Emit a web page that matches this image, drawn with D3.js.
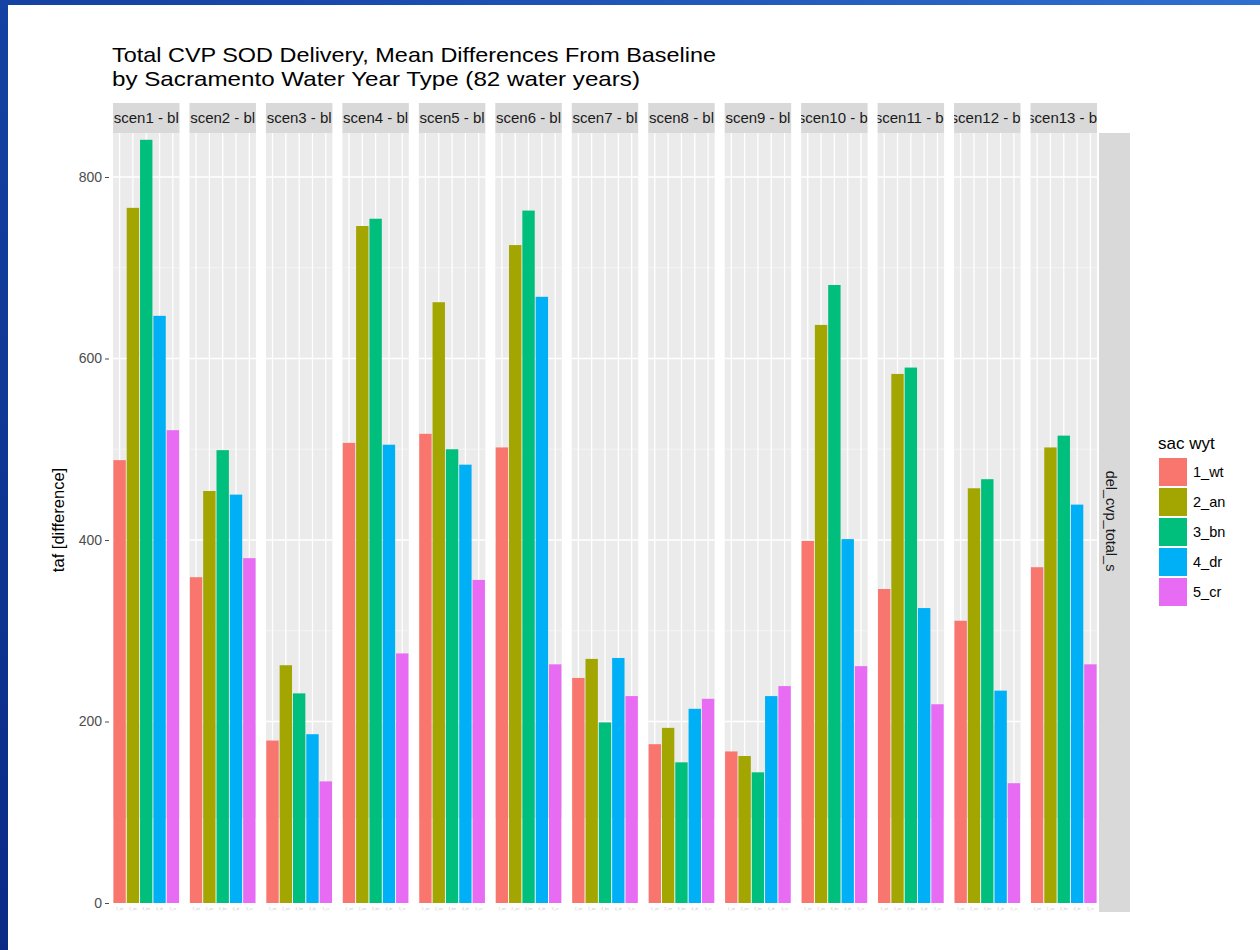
<!DOCTYPE html>
<html><head><meta charset="utf-8">
<script src="https://cdn.jsdelivr.net/npm/d3@7/dist/d3.min.js"></script>
<style>body{margin:0;padding:0;overflow:hidden;}svg{display:block;font-family:"Liberation Sans",Arial,sans-serif;}</style>
</head><body>
<script>
const scenarios = ["scen1","scen2","scen3","scen4","scen5","scen6","scen7","scen8","scen9","scen10","scen11","scen12","scen13"];
const wyt = ["1_wt","2_an","3_bn","4_dr","5_cr"];
const v_wt = [488,359,179,507,517,502,248,175,167,399,346,311,370];
const v_an = [766,454,262,746,662,725,269,193,162,637,583,457,502];
const v_bn = [841,499,231,754,500,763,199,155,144,681,590,467,515];
const v_dr = [647,450,186,505,483,668,270,214,228,401,325,234,439];
const v_cr = [521,380,134,275,356,263,228,225,239,261,219,132,263];
const yTicks = [0,200,400,600,800];
const yMinor = [100,300,500,700];
const colors = ["#F8766D","#A3A500","#00BF7D","#00B0F6","#E76BF3"];

const series = [v_wt,v_an,v_bn,v_dr,v_cr];
const W=1260,H=950;
const svg = d3.select("body").append("svg").attr("width",W).attr("height",H);
const defs = svg.append("defs");
const g1 = defs.append("linearGradient").attr("id","bg").attr("x1","0").attr("y1","1").attr("x2","1").attr("y2","0");
g1.append("stop").attr("offset","0").attr("stop-color","#0a2a86");
g1.append("stop").attr("offset","0.6").attr("stop-color","#1747a8");
g1.append("stop").attr("offset","1").attr("stop-color","#2f6fd0");
svg.append("rect").attr("width",W).attr("height",H).attr("fill","url(#bg)");
svg.append("rect").attr("x",8).attr("y",5).attr("width",W-8).attr("height",H-5).attr("fill","#ffffff");

const y = d3.scaleLinear().domain([0,800]).range([903,177]);
const panelTop = y(848.5), grayBot = 818;
const facet = d3.scaleBand().domain(scenarios).range([113, 113+76.5*12+66]).paddingInner(10/76.5).paddingOuter(0);
const pw = facet.bandwidth();
const color = d3.scaleOrdinal().domain(wyt).range(colors);

// title
const title = svg.append("g");
title.append("text").attr("x",112).attr("y",62).attr("font-size",21).attr("fill","#000")
  .attr("textLength",604).attr("lengthAdjust","spacingAndGlyphs")
  .text("Total CVP SOD Delivery, Mean Differences From Baseline");
title.append("text").attr("x",112).attr("y",86).attr("font-size",21).attr("fill","#000")
  .attr("textLength",528).attr("lengthAdjust","spacingAndGlyphs")
  .text("by Sacramento Water Year Type (82 water years)");

scenarios.forEach((s,i)=>{
  const x0 = facet(s);
  const g = svg.append("g");
  g.append("rect").attr("x",x0).attr("y",panelTop).attr("width",pw).attr("height",grayBot-panelTop).attr("fill","#EBEBEB");
  const xb = d3.scaleBand().domain(wyt).range([x0,x0+pw]).paddingInner(0.07).paddingOuter(0.03);
  yMinor.forEach(t=>g.append("line").attr("x1",x0).attr("x2",x0+pw).attr("y1",y(t)).attr("y2",y(t)).attr("stroke","#F6F6F6").attr("stroke-width",0.8));
  yTicks.forEach(t=>{ if(y(t)<grayBot) g.append("line").attr("x1",x0).attr("x2",x0+pw).attr("y1",y(t)).attr("y2",y(t)).attr("stroke","#fff").attr("stroke-width",1.3);});
  wyt.forEach(w=>g.append("line").attr("x1",xb(w)+xb.bandwidth()/2).attr("x2",xb(w)+xb.bandwidth()/2).attr("y1",panelTop).attr("y2",grayBot).attr("stroke","#fff").attr("stroke-width",1.3));
  wyt.forEach((w,k)=>{
    const v = series[k][i];
    g.append("rect").attr("x",xb(w)).attr("width",xb.bandwidth()).attr("y",y(v)).attr("height",y(0)-y(v)).attr("fill",color(w));
    g.append("text").attr("x",xb(w)+xb.bandwidth()/2).attr("y",910).attr("text-anchor","middle").attr("font-size",3.5).attr("fill","#c8c8c8").text(w);
  });
  const cid = "clip"+i;
  defs.append("clipPath").attr("id",cid).append("rect").attr("x",x0).attr("y",103).attr("width",pw).attr("height",30);
  g.append("rect").attr("x",x0).attr("y",103).attr("width",pw).attr("height",30).attr("fill","#D9D9D9");
  g.append("text").attr("clip-path",`url(#${cid})`).attr("x",x0+pw/2).attr("y",123).attr("text-anchor","middle")
    .attr("font-size",15).attr("fill","#1A1A1A").text(s+" - bl");
});

const rx = facet("scen13")+pw+2;
svg.append("rect").attr("x",rx).attr("y",panelTop).attr("width",31).attr("height",912-panelTop).attr("fill","#D9D9D9");
svg.append("text").attr("transform",`translate(${rx+7},521) rotate(90)`).attr("text-anchor","middle")
  .attr("font-size",14.5).attr("fill","#1A1A1A").text("del_cvp_total_s");

const yAxis = d3.axisLeft(y).tickValues(yTicks).tickSize(4).tickPadding(3);
const ya = svg.append("g").attr("transform","translate(109,0)").call(yAxis);
ya.select(".domain").remove();
ya.selectAll("line").attr("stroke","#4D4D4D");
ya.selectAll("text").attr("font-size",14).attr("fill","#4D4D4D").attr("font-family","Liberation Sans, Arial, sans-serif");
svg.append("text").attr("transform","translate(64,520) rotate(-90)").attr("text-anchor","middle")
  .attr("font-size",16.5).attr("fill","#000").text("taf [difference]");

const lg = svg.append("g");
lg.append("text").attr("x",1158).attr("y",449).attr("font-size",17).attr("fill","#000").text("sac wyt");
wyt.forEach((w,k)=>{
  const ky = 458 + k*30;
  lg.append("rect").attr("x",1159).attr("y",ky).attr("width",28).attr("height",28).attr("fill",color(w));
  lg.append("text").attr("x",1193).attr("y",ky+19).attr("font-size",14.5).attr("fill","#000").text(w);
});
</script>
</body></html>
